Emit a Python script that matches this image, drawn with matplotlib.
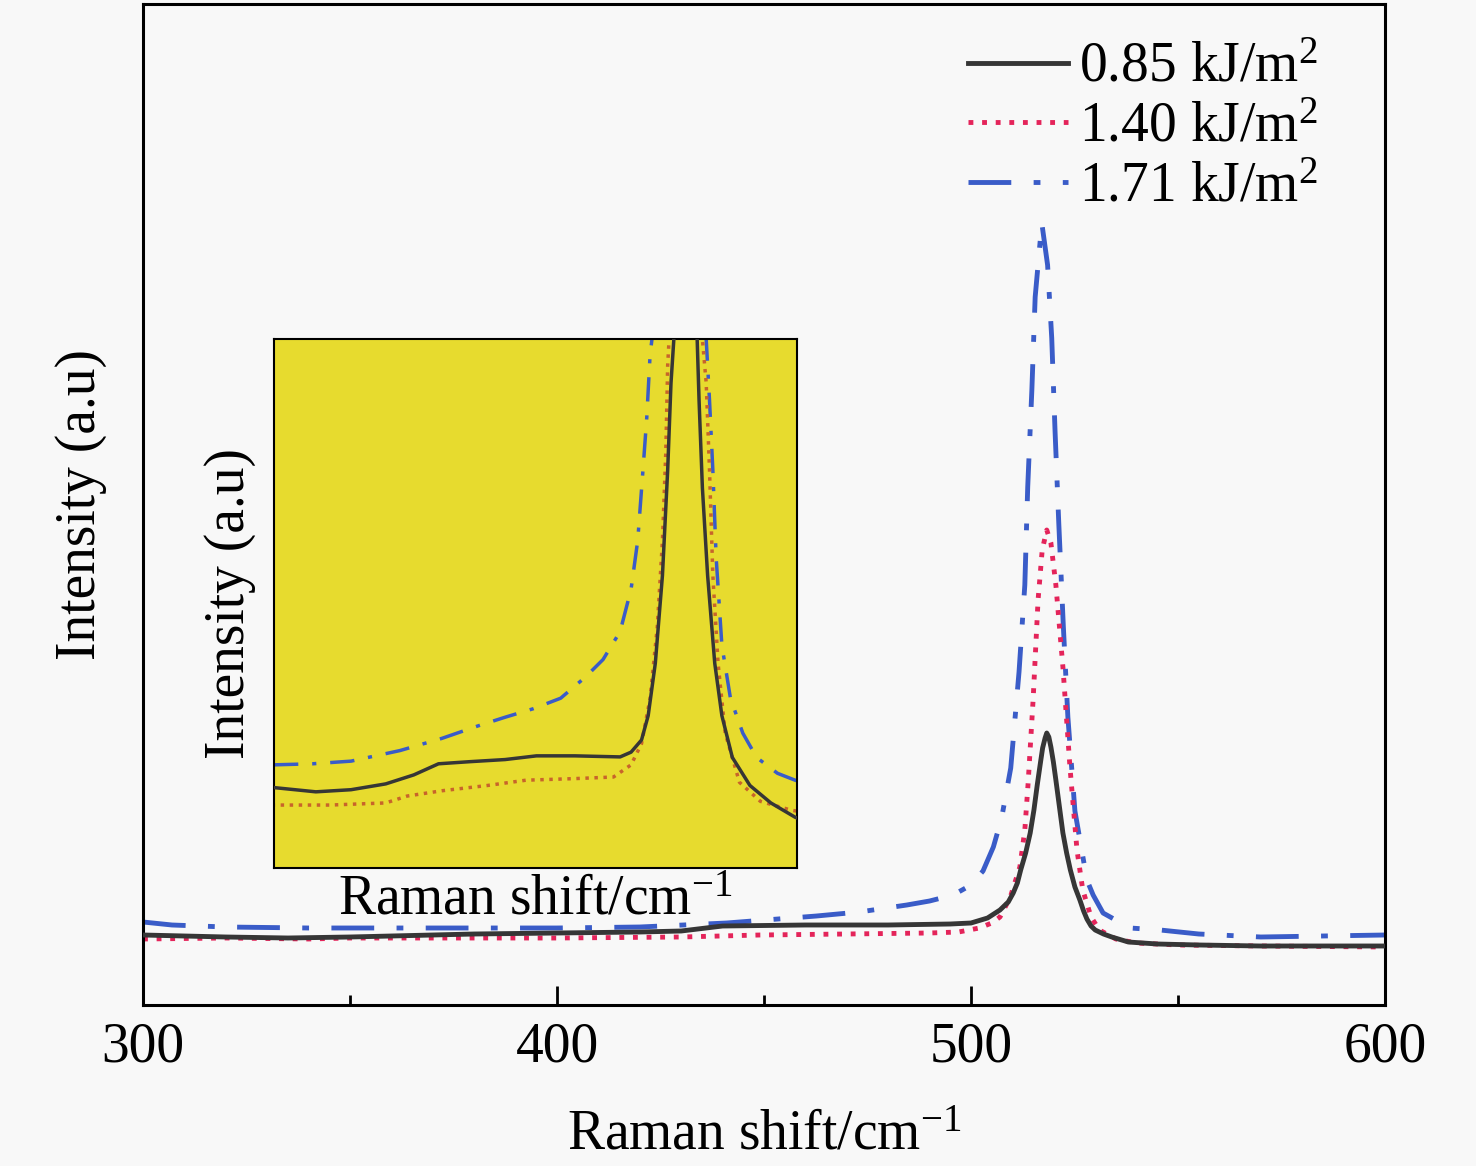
import matplotlib
matplotlib.use("Agg")
import matplotlib.pyplot as plt

plt.rcParams['font.family'] = ['Liberation Serif', 'DejaVu Serif']
plt.rcParams['mathtext.fontset'] = 'custom'
plt.rcParams['mathtext.rm'] = 'Liberation Serif'
plt.rcParams['mathtext.it'] = 'Liberation Serif:italic'

labels = ['0.85 kJ/m$^2$', '1.40 kJ/m$^2$', '1.71 kJ/m$^2$']

# main spectra (x in cm^-1, intensity in a.u.)
x_085 = [300, 320, 335, 350, 370, 380, 400, 420, 430, 440, 460, 480, 495, 500, 504, 507,
         509, 510.2, 511.2, 512, 513.2, 514.3, 515.2, 516, 516.8, 517.3, 517.9, 518.3,
         518.8, 519.3, 519.9, 520.5, 521.3, 522.2, 523.1, 524, 525.1, 526.3, 527.2, 528,
         529, 530, 532, 534, 538, 545, 555, 570, 600]
y_085 = [70, 68, 67, 68, 70, 71, 72, 73, 74, 79, 80, 80, 81, 82, 87, 95,
         103, 112, 122, 135, 152, 172, 195, 220, 243, 257, 267, 272,
         268, 258, 243, 225, 200, 172, 152, 135, 118, 105, 94, 86,
         79, 75, 71, 68, 63, 61, 60, 59, 59]

x_140 = [300, 320, 340, 350, 370, 400, 430, 449, 470, 490, 497, 502, 505, 507,
         509.5, 511.8, 513, 513.8, 515, 516.2, 517.2, 518.3, 519.3, 520.5, 522.2, 523.9,
         525.6, 527, 529, 531, 535, 540, 550, 570, 600]
y_140 = [66, 67, 66, 67, 67, 67, 68, 70, 71, 72, 73, 77, 82, 88,
         108, 138, 175, 222, 305, 405, 455, 475, 462, 420, 338, 238,
         155, 115, 88, 75, 66, 62, 60, 59, 58]

x_171 = [300, 307, 320, 340, 360, 380, 400, 420, 441, 462.7, 473, 484.5, 490, 495.7,
         500, 502.9, 505.4, 507.4, 509.6, 511.6, 513, 513.7, 514.7, 515.5, 517.1,
         518.5, 519.5, 520.3, 521.2, 522.3, 523.4, 525.1, 528, 529.5, 531.9, 538.4,
         545.7, 555, 570, 585, 600]
y_171 = [83, 80, 78, 77, 77, 77, 77, 78, 82, 89, 93, 100, 104, 110,
         120, 134, 158, 187, 237, 333, 420, 518, 615, 708, 782,
         740, 667, 574, 482, 379, 288, 194, 125, 110, 92, 77,
         75, 71, 68, 69, 70]

# inset curves
ix_085 = [430.0, 438.8, 446.2, 453.5, 459.4, 464.6, 471.2, 478.6, 485.2, 493.3, 502.8,
          505.1, 507.3, 508.7, 510.2, 511.7, 512.8, 513.5, 514.1, 516.5, 519.0, 519.4,
          520.1, 521.2, 522.7, 524.2, 526.4, 530.1, 534.5, 539.6, 540.5]
iy_085 = [70.2, 69.4, 69.8, 70.9, 72.6, 74.7, 75.1, 75.5, 76.2, 76.2, 76.0,
          76.9, 79.2, 83.8, 93.7, 110.3, 130.2, 146.7, 155.0, 272, 155.0, 143.4,
          126.9, 110.3, 93.7, 83.8, 75.9, 70.6, 67.3, 64.6, 64.3]

ix_140 = [429.5, 431.1, 441.8, 453.5, 458.0, 465.3, 474.9, 483.0, 493.3, 501.4, 505.1,
          507.3, 509.1, 510.6, 511.7, 512.4, 512.8, 513.1, 516.6, 520.1, 520.9, 521.6,
          522.3, 523.4, 524.9, 527.9, 532.3, 538.9, 540.5]
iy_140 = [66.9, 66.9, 66.9, 67.3, 68.6, 69.6, 70.6, 71.6, 71.9, 72.2, 74.5,
          78.5, 87.1, 100.4, 116.9, 133.5, 150.0, 155.0, 475, 155.0, 146.7, 130.2,
          110.3, 93.7, 80.5, 71.2, 67.6, 65.9, 65.7]

ix_171 = [430.0, 438.1, 446.2, 456.5, 465.3, 472.7, 478.6, 484.5, 490.3, 495.5, 499.2,
          502.8, 505.1, 506.5, 507.6, 508.4, 509.1, 509.5, 515.2, 520.9, 521.6, 522.3,
          523.0, 524.2, 526.0, 528.6, 531.5, 535.9, 539.6, 540.5]
iy_171 = [74.5, 74.7, 75.2, 77.2, 79.5, 81.8, 83.5, 85.1, 87.1, 91.1, 94.4,
          99.7, 107.7, 116.9, 130.2, 140.1, 152.0, 155.0, 782, 155.0, 143.4, 130.2,
          113.6, 97.1, 87.1, 80.5, 75.9, 72.9, 71.6, 71.3]

bg = '#f8f8f8'
c_085 = '#363636'
c_140 = '#e4245a'
c_171 = '#3a5cc8'
dashdot = (0, (8.8, 4.6, 1.4, 4.6))
dotted = (0, (1, 1.8))

fig = plt.figure(figsize=(14.76, 11.66), dpi=100, facecolor=bg)
ax = fig.add_axes([143 / 1476, 1 - 1005 / 1166, 1242 / 1476, 1001 / 1166])
ax.set_facecolor(bg)

ax.plot(x_085, y_085, color=c_085, lw=3.5, ls='-', zorder=3, label=labels[0])
ax.plot(x_140, y_140, color=c_140, lw=3.5, ls=dotted, zorder=2, label=labels[1])
ax.plot(x_171, y_171, color=c_171, lw=3.5, ls=dashdot, zorder=1, label=labels[2])

ax.set_xlim(300, 600)
ax.set_ylim(0, 1001)
ax.set_xticks([300, 400, 500, 600])
ax.set_xticks([350, 450, 550], minor=True)
ax.set_yticks([])
ax.tick_params(axis='x', which='major', direction='in', length=14, width=2,
               labelsize=40, pad=12)
ax.tick_params(axis='x', which='minor', direction='in', length=7, width=2)
for s in ax.spines.values():
    s.set_linewidth(2.2)

ax.set_xlabel('Raman shift/cm$^{-1}$', fontsize=40, labelpad=26)
ax.set_ylabel('Intensity (a.u)', fontsize=40, labelpad=26)

leg = ax.legend(loc='upper left', bbox_to_anchor=(968 / 1476, 1 - 42 / 1166),
                bbox_transform=fig.transFigure, frameon=False, fontsize=40,
                handlelength=1.8, handletextpad=0.2, labelspacing=0.14,
                borderpad=0, borderaxespad=0)

# inset
ins = fig.add_axes([274 / 1476, 1 - 868 / 1166, 523 / 1476, 529 / 1166])
ins.set_facecolor('#e7db2e')
ins.plot(ix_085, iy_085, color=c_085, lw=2.5, ls='-', zorder=3)
ins.plot(ix_140, iy_140, color='#c8642a', lw=2.5, ls=(0, (1, 1.6)), zorder=2)
ins.plot(ix_171, iy_171, color=c_171, lw=2.5, ls=(0, (7, 4, 1.2, 4)), zorder=1)
ins.set_xlim(430, 540)
ins.set_ylim(55, 155)
ins.set_xticks([])
ins.set_yticks([])
for s in ins.spines.values():
    s.set_linewidth(1.5)
ins.set_xlabel('Raman shift/cm$^{-1}$', fontsize=40, labelpad=5)
ins.set_ylabel('Intensity (a.u)', fontsize=40, labelpad=13)

fig.savefig('out.png', dpi=100, facecolor=bg)
